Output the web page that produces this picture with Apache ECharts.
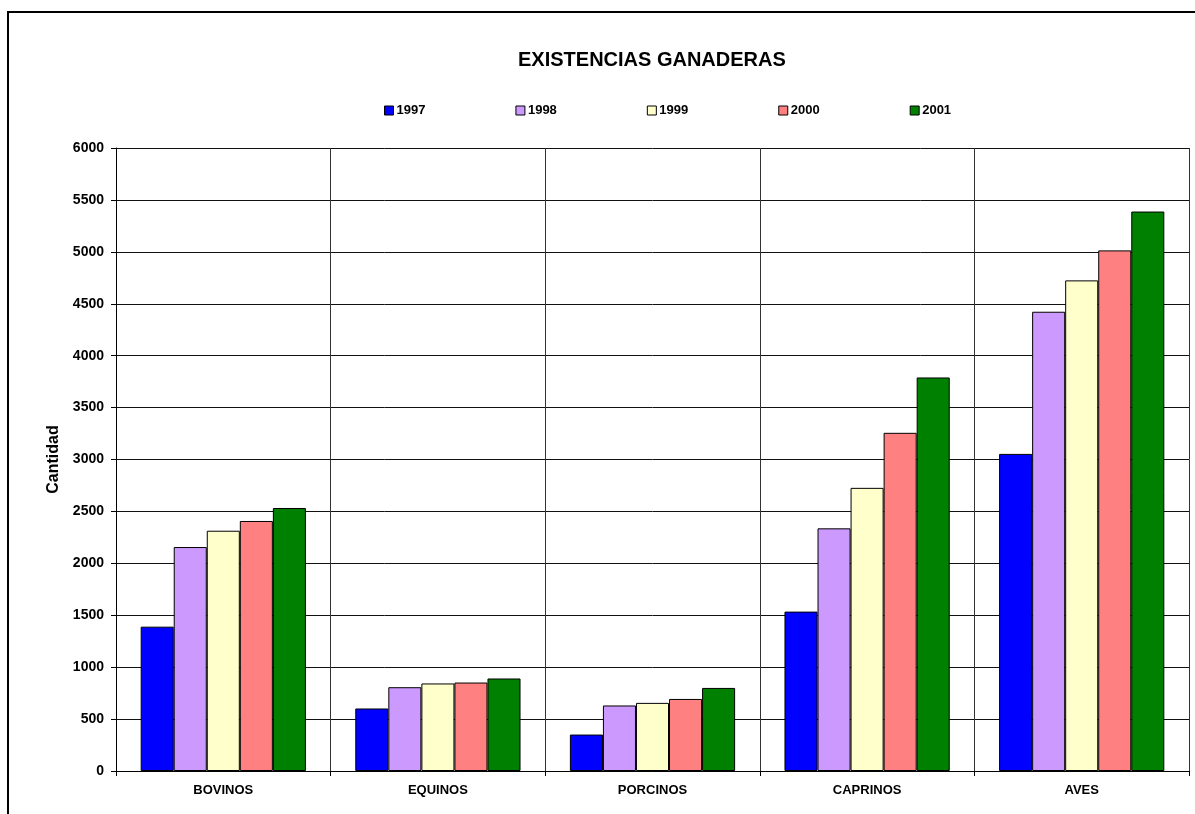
<!DOCTYPE html>
<html>
<head>
<meta charset="utf-8">
<script src="https://cdn.jsdelivr.net/npm/echarts@6/dist/echarts.min.js"></script>
<style>
html,body{margin:0;padding:0;background:#fff;}
#chart{width:1195px;height:814px;}
</style>
</head>
<body>
<div id="chart"></div>
<script>
const categories = ['BOVINOS', 'EQUINOS', 'PORCINOS', 'CAPRINOS', 'AVES'];
const years = ['1997', '1998', '1999', '2000', '2001'];
const v1997 = [1390, 602, 351, 1535, 3054];
const v1998 = [2157, 807, 631, 2337, 4423];
const v1999 = [2314, 843, 656, 2727, 4725];
const v2000 = [2408, 852, 694, 3257, 5014];
const v2001 = [2533, 891, 800, 3790, 5388];
const yTicks = [0, 500, 1000, 1500, 2000, 2500, 3000, 3500, 4000, 4500, 5000, 5500, 6000];
const colors = ['#0000FF', '#CC99FF', '#FFFFCC', '#FF8080', '#008000'];
const seriesValues = [v1997, v1998, v1999, v2000, v2001];

const FONT = '"Liberation Sans", Arial, sans-serif';
const chart = echarts.init(document.getElementById('chart'), null, {renderer: 'canvas'});
chart.setOption({
  animation: false,
  backgroundColor: '#fff',
  title: {
    text: 'EXISTENCIAS GANADERAS',
    left: 513, top: 45,
    textStyle: {fontFamily: FONT, fontWeight: 'bold', fontSize: 20, color: '#000'}
  },
  legend: {
    data: years,
    left: 379, top: 99,
    icon: 'rect',
    itemWidth: 9, itemHeight: 9, itemGap: 90,
    itemStyle: {borderColor: '#000', borderWidth: 1},
    textStyle: {fontFamily: FONT, fontWeight: 'bold', fontSize: 13, color: '#000', padding: [0, 0, 0, -2]}
  },
  graphic: [{
    type: 'rect', z: 100,
    shape: {x: 8, y: 12, width: 1200, height: 900},
    style: {fill: 'none', stroke: '#000', lineWidth: 2}
  }],
  grid: {left: 116, right: 6, top: 148, bottom: 43},
  xAxis: {
    type: 'category',
    data: categories,
    axisLine: {lineStyle: {color: '#000', width: 1}},
    axisTick: {show: true, length: 5, lineStyle: {color: '#000'}},
    splitLine: {show: true, lineStyle: {color: '#333', width: 1}},
    axisLabel: {fontFamily: FONT, fontWeight: 'bold', fontSize: 13, color: '#000', margin: 13}
  },
  yAxis: {
    type: 'value',
    min: yTicks[0], max: yTicks[yTicks.length - 1], interval: 500,
    name: 'Cantidad',
    nameLocation: 'middle',
    nameGap: 47,
    nameRotate: 90,
    nameTextStyle: {fontFamily: FONT, fontWeight: 'bold', fontSize: 16, color: '#000'},
    axisLine: {show: true, lineStyle: {color: '#000', width: 1}},
    axisTick: {show: true, length: 5, lineStyle: {color: '#000'}},
    splitLine: {show: true, lineStyle: {color: '#111', width: 1}},
    axisLabel: {fontFamily: FONT, fontWeight: 'bold', fontSize: 14, color: '#000', margin: 12,
      formatter: v => String(v)}
  },
  series: years.map((y, i) => ({
    name: y,
    type: 'bar',
    data: seriesValues[i],
    barGap: '0%',
    barCategoryGap: '23%',
    itemStyle: {color: colors[i], borderColor: '#000', borderWidth: 1}
  }))
});
</script>
</body>
</html>
